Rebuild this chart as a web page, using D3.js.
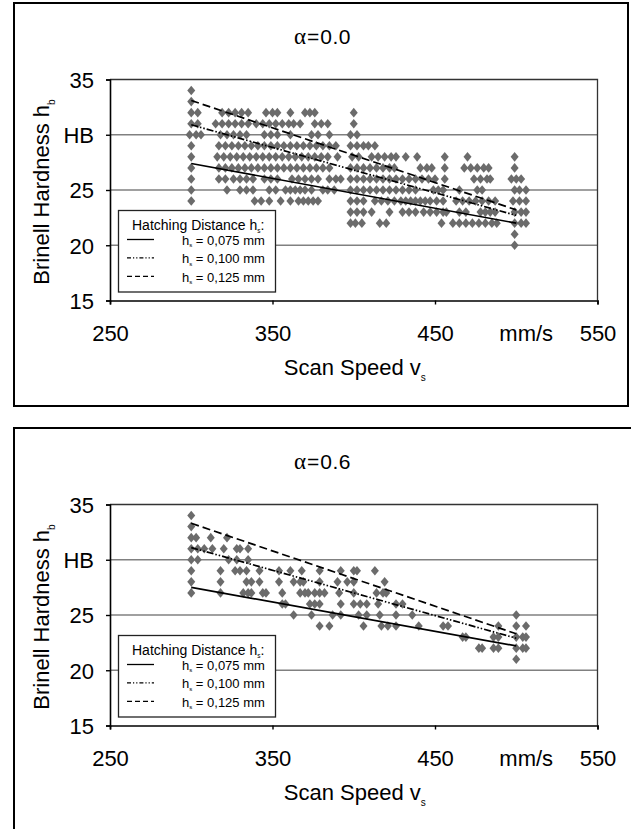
<!DOCTYPE html>
<html>
<head>
<meta charset="utf-8">
<script src="https://cdn.jsdelivr.net/npm/d3@7"></script>
<style>
  body { margin: 0; background: #fff; }
  svg { display: block; font-family: "Liberation Sans", Arial, sans-serif; }
</style>
</head>
<body>
<script>
// axis ticks
const xTicks = [250, 350, 450, 550]
const yTicks = [15, 20, 25, 30, 35]
const yTickLabels = ['15', '20', '25', 'HB', '35']

// measured points, one row per hardness level: [hardness, [scan speeds]]
const rowsAlpha00 = [
  [34, [300]],
  [33, [300]],
  [32, [300, 304, 319, 323, 327, 331, 335, 346, 350, 353, 361, 370, 373, 376, 400]],
  [31, [300, 304, 315, 319, 323, 327, 331, 335, 340, 344, 348, 352, 356, 360, 363, 367, 376, 380, 384, 400]],
  [30, [299, 303, 306, 318, 322, 326, 330, 334, 345, 349, 353, 361, 374, 378, 385, 398, 402]],
  [29, [300, 317, 321, 325, 329, 333, 337, 341, 345, 349, 353, 357, 361, 365, 369, 373, 377, 381, 385, 389, 398, 402, 406, 409, 413]],
  [28, [300, 316, 320, 324, 328, 332, 336, 340, 344, 348, 352, 356, 360, 364, 368, 372, 376, 380, 384, 390, 399, 403, 411, 415, 419, 423, 426, 432, 439, 456, 470, 499]],
  [27, [300, 317, 321, 325, 329, 333, 337, 341, 345, 349, 353, 357, 361, 365, 369, 373, 377, 381, 385, 398, 402, 406, 410, 414, 418, 422, 425, 441, 445, 448, 456, 468, 472, 476, 480, 483, 499]],
  [26, [300, 317, 321, 326, 330, 334, 338, 345, 349, 353, 362, 366, 370, 374, 378, 385, 389, 392, 398, 402, 406, 410, 414, 418, 422, 426, 430, 434, 438, 442, 446, 450, 456, 474, 478, 482, 484, 497, 500, 503]],
  [25, [300, 322, 330, 334, 338, 348, 352, 358, 361, 364, 367, 370, 374, 381, 384, 388, 398, 402, 406, 410, 414, 418, 422, 426, 430, 434, 438, 449, 452, 455, 465, 476, 479, 499, 502, 506]],
  [24, [300, 339, 343, 348, 355, 361, 366, 369, 372, 375, 378, 398, 402, 406, 413, 417, 421, 425, 429, 432, 435, 438, 441, 444, 447, 451, 455, 463, 467, 471, 475, 479, 483, 487, 498, 502, 506]],
  [23, [398, 402, 406, 411, 422, 430, 434, 438, 443, 447, 451, 455, 457, 465, 469, 478, 481, 484, 487, 499, 503, 506]],
  [22, [398, 401, 405, 416, 420, 454, 461, 465, 469, 473, 477, 481, 485, 488, 499, 503, 506]],
  [21, [499]],
  [20, [499]]
]

const rowsAlpha06 = [
  [34, [300]],
  [33, [300]],
  [32, [300, 303, 312, 322]],
  [31, [300, 304, 308, 313, 320, 328, 330, 335]],
  [30, [300, 304, 323, 328, 335]],
  [29, [300, 318, 327, 330, 334, 342, 354, 361, 368, 379, 392, 400, 402, 413]],
  [28, [300, 318, 334, 337, 342, 354, 363, 367, 369, 379, 390, 396, 400, 419]],
  [27, [300, 318, 332, 335, 337, 344, 346, 356, 367, 370, 372, 376, 379, 382, 391, 400, 414, 418, 420]],
  [26, [356, 358, 373, 376, 379, 392, 400, 404, 408, 415, 426, 430]],
  [25, [363, 374, 387, 392, 403, 408, 416, 426, 436, 500]],
  [24, [379, 385, 406, 417, 421, 426, 440, 455, 458, 489, 500, 506]],
  [23, [467, 469, 486, 489, 500, 504, 506]],
  [22, [477, 479, 486, 489, 500, 504, 506]],
  [21, [500]]
]

// regression lines, hardness at the first and last scan speed
const fitSpeeds = [300, 500]
const fitsAlpha00 = [[27.4, 22.0], [30.9, 22.7], [33.1, 23.2]]
const fitsAlpha06 = [[27.5, 22.2], [31.1, 22.9], [33.3, 23.3]]
const hatchLabels = ['0,075 mm', '0,100 mm', '0,125 mm']

const dashes = [null, '7,2,1.5,2,1.5,2', '8,4']

const svg = d3.select('body').append('svg')
  .attr('width', 631)
  .attr('height', 829)

const diamond = {
  draw(ctx) {
    ctx.moveTo(0, -4.8)
    ctx.lineTo(4, 0)
    ctx.lineTo(0, 4.8)
    ctx.lineTo(-4, 0)
    ctx.closePath()
  }
}

// outer frames
svg.append('rect').attr('x', 14).attr('y', 3).attr('width', 614).attr('height', 403)
  .attr('fill', 'none').attr('stroke', '#000').attr('stroke-width', 2)
svg.append('rect').attr('x', 14).attr('y', 428).attr('width', 640).attr('height', 420)
  .attr('fill', 'none').attr('stroke', '#000').attr('stroke-width', 2)

drawChart(0, '0.0', rowsAlpha00, fitsAlpha00)
drawChart(425, '0.6', rowsAlpha06, fitsAlpha06)

function drawChart(offsetY, alpha, rows, fits) {
  const g = svg.append('g').attr('transform', `translate(0,${offsetY})`)

  const x = d3.scaleLinear().domain([250, 550]).range([110, 597.5])
  const y = d3.scaleLinear().domain([15, 35]).range([300.5, 79.5])

  // gridlines
  g.selectAll('.grid').data(yTicks.slice(1, -1)).join('line')
    .attr('x1', x(250)).attr('x2', x(550))
    .attr('y1', d => y(d)).attr('y2', d => y(d))
    .attr('stroke', '#808080').attr('stroke-width', 1.6)

  // plot frame (top & right)
  g.append('path')
    .attr('d', `M${x(250)},${y(35)}H${x(550)}V${y(15)}`)
    .attr('fill', 'none').attr('stroke', '#333').attr('stroke-width', 1.3)

  const points = rows.flatMap(([h, speeds]) => speeds.map(v => ({ v, h })))
  g.selectAll('.pt').data(points).join('path')
    .attr('d', d3.symbol(diamond)())
    .attr('transform', d => `translate(${x(d.v)},${y(d.h)})`)
    .attr('fill', '#6b6b6b')

  const line = d3.line().x(d => x(d[0])).y(d => y(d[1]))
  fits.forEach((f, i) => {
    g.append('path')
      .attr('d', line(fitSpeeds.map((v, j) => [v, f[j]])))
      .attr('fill', 'none').attr('stroke', '#000').attr('stroke-width', 1.7)
      .attr('stroke-dasharray', dashes[i])
  })

  // axes
  const yAxis = g.append('g').attr('transform', `translate(${x(250)},0)`)
    .call(d3.axisLeft(y).tickValues(yTicks).tickSize(4).tickFormat((d, i) => yTickLabels[i]))
  const xAxis = g.append('g').attr('transform', `translate(0,${y(15)})`)
    .call(d3.axisBottom(x).tickValues(xTicks).tickSize(4).tickFormat(d3.format('d')))
  for (const a of [yAxis, xAxis]) {
    a.attr('font-family', null)
    a.select('.domain').attr('stroke', '#000').attr('stroke-width', 1.6)
    a.selectAll('.tick line').attr('stroke', '#000').attr('stroke-width', 1.4)
    a.selectAll('text').attr('font-size', 22).attr('fill', '#000')
  }
  yAxis.selectAll('text').attr('x', -16).attr('dy', '0.36em')
  xAxis.selectAll('text').attr('y', 25).attr('dy', '0.71em')

  g.append('text')
    .attr('x', x(500) + 10).attr('y', y(15) + 40.5)
    .attr('text-anchor', 'middle').attr('font-size', 22)
    .text('mm/s')

  // title: serif alpha, sans digits
  const tt = g.append('text')
    .attr('x', 294).attr('y', 44.3)
    .attr('font-size', 21)
  tt.append('tspan').attr('font-family', '"Liberation Serif", serif').attr('font-size', 23).text('α')
  tt.append('tspan').attr('dx', 1).text('=')
  tt.append('tspan').attr('dx', 1).attr('letter-spacing', 0.5).text(alpha)

  const xl = g.append('text')
    .attr('x', (x(250) + x(550)) / 2 + 1).attr('y', 375)
    .attr('text-anchor', 'middle').attr('font-size', 22)
  xl.append('tspan').text('Scan Speed v')
  xl.append('tspan').attr('font-size', 10).attr('dy', 6).text('s')

  const yl = g.append('text')
    .attr('transform', `translate(49,${(y(15) + y(35)) / 2 + 2}) rotate(-90)`)
    .attr('text-anchor', 'middle').attr('font-size', 22)
  yl.append('tspan').text('Brinell Hardness h')
  yl.append('tspan').attr('font-size', 10).attr('dy', 6).text('b')

  // legend
  const lg = g.append('g')
  lg.append('rect').attr('x', 118.5).attr('y', 210.5).attr('width', 157).attr('height', 81.5)
    .attr('fill', '#fff').attr('stroke', '#222').attr('stroke-width', 1.3)
  const head = lg.append('text').attr('x', 132).attr('y', 230).attr('font-size', 14)
  head.append('tspan').text('Hatching Distance h')
  head.append('tspan').attr('font-size', 6.5).attr('dy', 3).text('s')
  head.append('tspan').attr('dy', -3).text(':')

  hatchLabels.forEach((label, i) => {
    const ly = 239.5 + i * 18.4
    lg.append('line')
      .attr('x1', 127).attr('x2', 154).attr('y1', ly).attr('y2', ly)
      .attr('stroke', '#000').attr('stroke-width', 1.3)
      .attr('stroke-dasharray', dashes[i] ? (i === 1 ? '4,2,1.2,2,1.2,2' : '5,3') : null)
    const t = lg.append('text').attr('x', 182).attr('y', ly + 5.2).attr('font-size', 13)
    t.append('tspan').text('h')
    t.append('tspan').attr('font-size', 6).attr('dy', 2.5).text('s')
    t.append('tspan').attr('dy', -2.5).text(' = ' + label)
  })
}
</script>
</body>
</html>
